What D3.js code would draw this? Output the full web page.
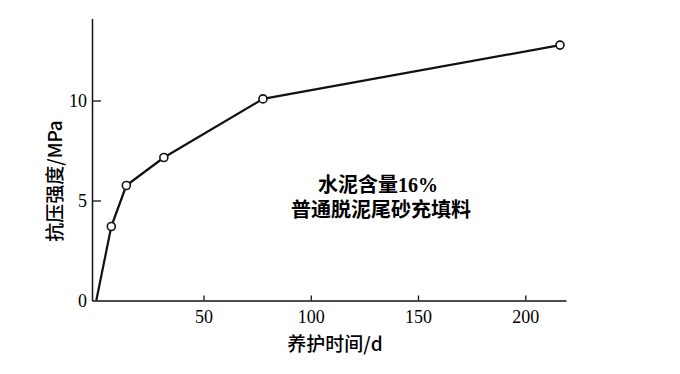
<!DOCTYPE html>
<html>
<head>
<meta charset="utf-8">
<script src="https://cdn.jsdelivr.net/npm/d3@7"></script>
<style>
  html, body { margin: 0; padding: 0; background: #fff; }
  svg { display: block; }
</style>
</head>
<body>
<div id="chart"></div>
<script>
// ---- Data ----
const curingDays = [0, 7, 14, 31.5, 77.7, 216.2];
const strengthMPa = [0, 3.7, 5.75, 7.15, 10.08, 12.77];
const xTicks = [50, 100, 150, 200];
const yTicks = [0, 5, 10];
const xTitle = "养护时间/d";
const yTitle = "抗压强度/MPa";
const noteLines = ["水泥含量16%", "普通脱泥尾砂充填料"];

const W = 680, H = 374;
const svg = d3.select("#chart").append("svg")
  .attr("width", W).attr("height", H);

const x = d3.scaleLinear().domain([-2, 219]).range([92, 566]);
const y = d3.scaleLinear().domain([0, 14.1]).range([300.5, 18.5]);

const tickFont = "'Liberation Serif', 'Times New Roman', serif";
const cjkFont = "'Noto Sans CJK SC', 'Noto Sans', sans-serif";

// X axis
const gx = svg.append("g")
  .attr("transform", `translate(0,${y(0)})`)
  .call(d3.axisBottom(x).tickValues(xTicks).tickFormat(d3.format("d"))
    .tickSizeInner(-5).tickSizeOuter(0).tickPadding(10));
gx.select(".domain").attr("stroke", "#111").attr("stroke-width", 1.5);
gx.selectAll(".tick line").attr("stroke", "#111").attr("stroke-width", 1.3);
gx.selectAll(".tick text").attr("font-family", tickFont).attr("font-size", 18).attr("fill", "#000");

// Y axis
const gy = svg.append("g")
  .attr("transform", `translate(${x(-2)},0)`)
  .call(d3.axisLeft(y).tickValues(yTicks).tickFormat(d3.format("d"))
    .tickSizeInner(-9).tickSizeOuter(0).tickPadding(5));
gy.select(".domain").attr("stroke", "#111").attr("stroke-width", 1.5);
gy.selectAll(".tick line").attr("stroke", "#111").attr("stroke-width", 1.3)
  .filter(d => d === 0).remove();
gy.selectAll(".tick text").attr("font-family", tickFont).attr("font-size", 18).attr("fill", "#000");

// Line
const pts = curingDays.map((d, i) => [d, strengthMPa[i]]);
svg.append("path")
  .datum(pts)
  .attr("fill", "none")
  .attr("stroke", "#111")
  .attr("stroke-width", 2.2)
  .attr("stroke-linejoin", "round")
  .attr("d", d3.line().x(d => x(d[0])).y(d => y(d[1])));

// Markers (open circles, not at origin)
svg.append("g").selectAll("circle")
  .data(pts.slice(1))
  .join("circle")
  .attr("cx", d => x(d[0]))
  .attr("cy", d => y(d[1]))
  .attr("r", 4)
  .attr("fill", "#fff")
  .attr("stroke", "#111")
  .attr("stroke-width", 1.6);

// Axis titles
svg.append("text")
  .attr("x", 335).attr("y", 351)
  .attr("text-anchor", "middle")
  .attr("font-family", cjkFont).attr("font-size", 19).attr("font-weight", 500).attr("fill", "#000")
  .text(xTitle);

svg.append("text")
  .attr("transform", "translate(62,181) rotate(-90)")
  .attr("text-anchor", "middle")
  .attr("font-family", cjkFont).attr("font-size", 19).attr("font-weight", 500).attr("fill", "#000")
  .text(yTitle);

// Annotation
const noteX = [378, 381];
const noteY = [192, 217];
svg.append("g").selectAll("text")
  .data(noteLines)
  .join("text")
  .attr("x", (d, i) => noteX[i])
  .attr("y", (d, i) => noteY[i])
  .attr("text-anchor", "middle")
  .attr("font-family", "'Liberation Serif', 'Noto Sans CJK SC', serif")
  .attr("font-size", 20)
  .attr("font-weight", 600)
  .attr("fill", "#000")
  .text(d => d);
</script>
</body>
</html>
